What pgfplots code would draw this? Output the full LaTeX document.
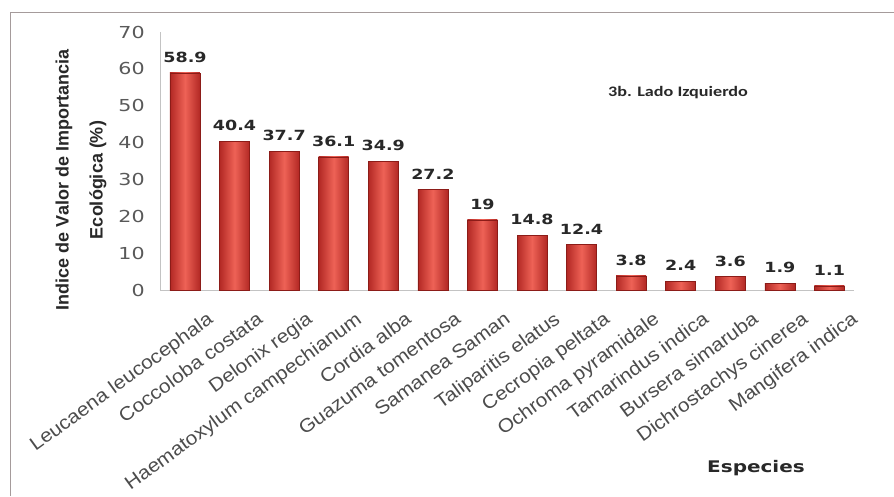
\documentclass[border=0pt]{standalone}
\usepackage{fontspec}
\usepackage{pgfplots}
\pgfplotsset{compat=1.18}
\setmainfont{Liberation Sans}
\newfontfamily\dv[FakeStretch=1.25]{DejaVu Sans}
\newfontfamily\xlab[FakeStretch=1.1]{Liberation Sans}
\newfontfamily\annot[FakeStretch=1.25]{Carlito}
\definecolor{barDark}{RGB}{178,40,36}
\definecolor{barLight}{RGB}{238,98,86}
\definecolor{barEdge}{RGB}{140,28,24}
\definecolor{axisGray}{RGB}{195,195,195}
\definecolor{frameGray}{RGB}{165,155,155}
\definecolor{txt}{RGB}{40,40,40}
\pgfplotsset{barstyle/.style={draw=barEdge, line width=0.6pt, left color=barDark, right color=barDark, middle color=barLight, bar shift=0pt}}
\newcommand\onebar[2]{\addplot[barstyle] coordinates {(#1,#2) [#2]};}
\begin{document}
\begin{tikzpicture}[x=1pt, y=1pt]
\useasboundingbox (-185,-206) rectangle (709,290);
\draw[frameGray, line width=1pt] (-174,-206) -- (-174,277) -- (709,277);
\begin{axis}[
  at={(0pt,0pt)}, anchor=origin,
  scale only axis,
  width=694pt, height=258pt,
  xmin=-0.5, xmax=13.5,
  ymin=0, ymax=70,
  ytick={0,10,...,70},
  yticklabels={0,10,20,30,40,50,60,70},
  xtick={0,...,13},
  xticklabels={Leucaena leucocephala, Coccoloba costata, Delonix regia, Haematoxylum campechianum, Cordia alba, Guazuma tomentosa, Samanea Saman, Taliparitis elatus, Cecropia peltata, Ochroma pyramidale, Tamarindus indica, Bursera simaruba, Dichrostachys cinerea, Mangifera indica},
  axis lines*=left,
  axis line style={axisGray, line width=1pt},
  major tick length=0pt,
  yticklabel style={font=\dv\fontsize{16.5}{16.5}\selectfont, text=black!65, xshift=-12pt},
  xticklabel style={font=\xlab\fontsize{19}{19}\selectfont, text=black!70, rotate=36, anchor=north east, inner sep=0pt, yshift=-29pt, xshift=5pt},
  ybar, bar width=30pt,
  nodes near coords,
  point meta=explicit symbolic,
  every node near coord/.append style={font=\dv\bfseries\fontsize{14}{14}\selectfont, text=txt, anchor=south, inner sep=0pt, yshift=10pt},
  clip=false,
]
\onebar{0}{58.9}
\onebar{1}{40.4}
\onebar{2}{37.7}
\onebar{3}{36.1}
\onebar{4}{34.9}
\onebar{5}{27.2}
\onebar{6}{19}
\onebar{7}{14.8}
\onebar{8}{12.4}
\onebar{9}{3.8}
\onebar{10}{2.4}
\onebar{11}{3.6}
\onebar{12}{1.9}
\onebar{13}{1.1}
\end{axis}
\node[rotate=90, align=center, font=\bfseries\fontsize{18}{34}\selectfont, text=txt] at (-104,110) {Indice de Valor de Importancia\\Ecológica (\%)};
\node[font=\annot\bfseries\fontsize{14.5}{14.5}\selectfont, text=txt] at (493,197) {3b. Lado Izquierdo};
\node[font=\dv\bfseries\fontsize{16}{16}\selectfont, text=txt] at (571,-178) {Especies};
\end{tikzpicture}
\end{document}
